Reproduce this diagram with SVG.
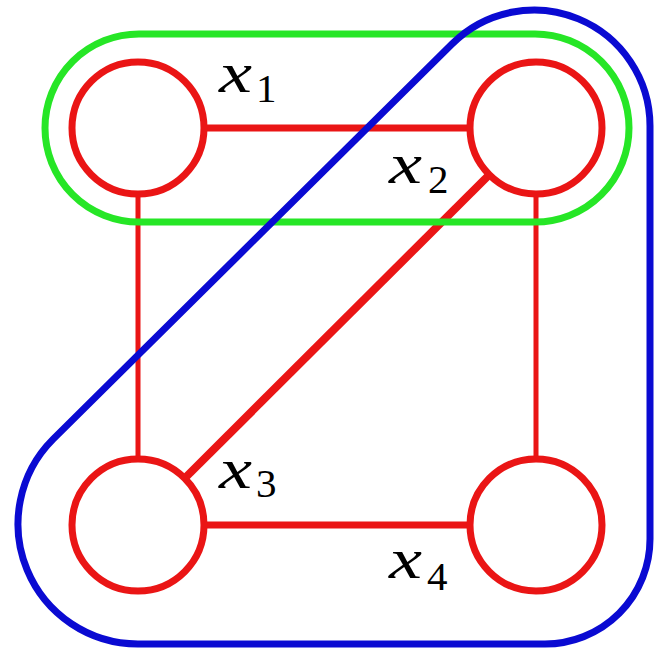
<svg xmlns="http://www.w3.org/2000/svg" width="657" height="651" viewBox="0 0 657 651">
  <style>
    .edge { stroke: #ea1515; fill: none; stroke-linecap: butt; }
    .node { stroke: #ea1515; stroke-width: 7; fill: none; }
    .lbl { font-family: "Liberation Serif", "DejaVu Serif", serif; fill: #000; }
    .v { font-style: italic; font-size: 58px; }
    .s { font-size: 41px; }
  </style>
  <rect width="657" height="651" fill="#fff"/>
  <g id="connectors">
    <line class="edge" x1="204" y1="128" x2="470" y2="128" stroke-width="7"/>
    <line class="edge" x1="138" y1="194" x2="138" y2="459" stroke-width="5"/>
    <line class="edge" x1="536" y1="194" x2="536" y2="459" stroke-width="5"/>
    <line class="edge" x1="204" y1="525" x2="471" y2="525" stroke-width="7"/>
    <line class="edge" x1="489" y1="175" x2="185" y2="478" stroke-width="8"/>
  </g>
  <g id="x1">
    <circle class="node" cx="138" cy="128" r="66"/>
    <text class="lbl v" x="219" y="92" textLength="33" lengthAdjust="spacingAndGlyphs">x</text>
    <text class="lbl s" x="256" y="102">1</text>
  </g>
  <g id="x2">
    <circle class="node" cx="536" cy="128" r="66"/>
    <text class="lbl v" x="389" y="183" textLength="33" lengthAdjust="spacingAndGlyphs">x</text>
    <text class="lbl s" x="428" y="193">2</text>
  </g>
  <g id="x3">
    <circle class="node" cx="138" cy="525" r="66"/>
    <text class="lbl v" x="219" y="488" textLength="33" lengthAdjust="spacingAndGlyphs">x</text>
    <text class="lbl s" x="256" y="497">3</text>
  </g>
  <g id="x4">
    <circle class="node" cx="536" cy="525" r="66"/>
    <text class="lbl v" x="389" y="578" textLength="33" lengthAdjust="spacingAndGlyphs">x</text>
    <text class="lbl s" x="427" y="590">4</text>
  </g>
  <g id="hyperedge-green">
    <rect x="45" y="34" width="584" height="188" rx="94" ry="94" fill="none" stroke="#26e626" stroke-width="7"/>
  </g>
  <g id="hyperedge-blue">
    <path d="M 452 44 A 116 116 0 0 1 650 126 L 650 539 A 105 105 0 0 1 545 644 L 138 644 A 120 120 0 0 1 53.15 439.15 Z" fill="none" stroke="#0a0ad2" stroke-width="7" stroke-linejoin="round"/>
  </g>
</svg>
